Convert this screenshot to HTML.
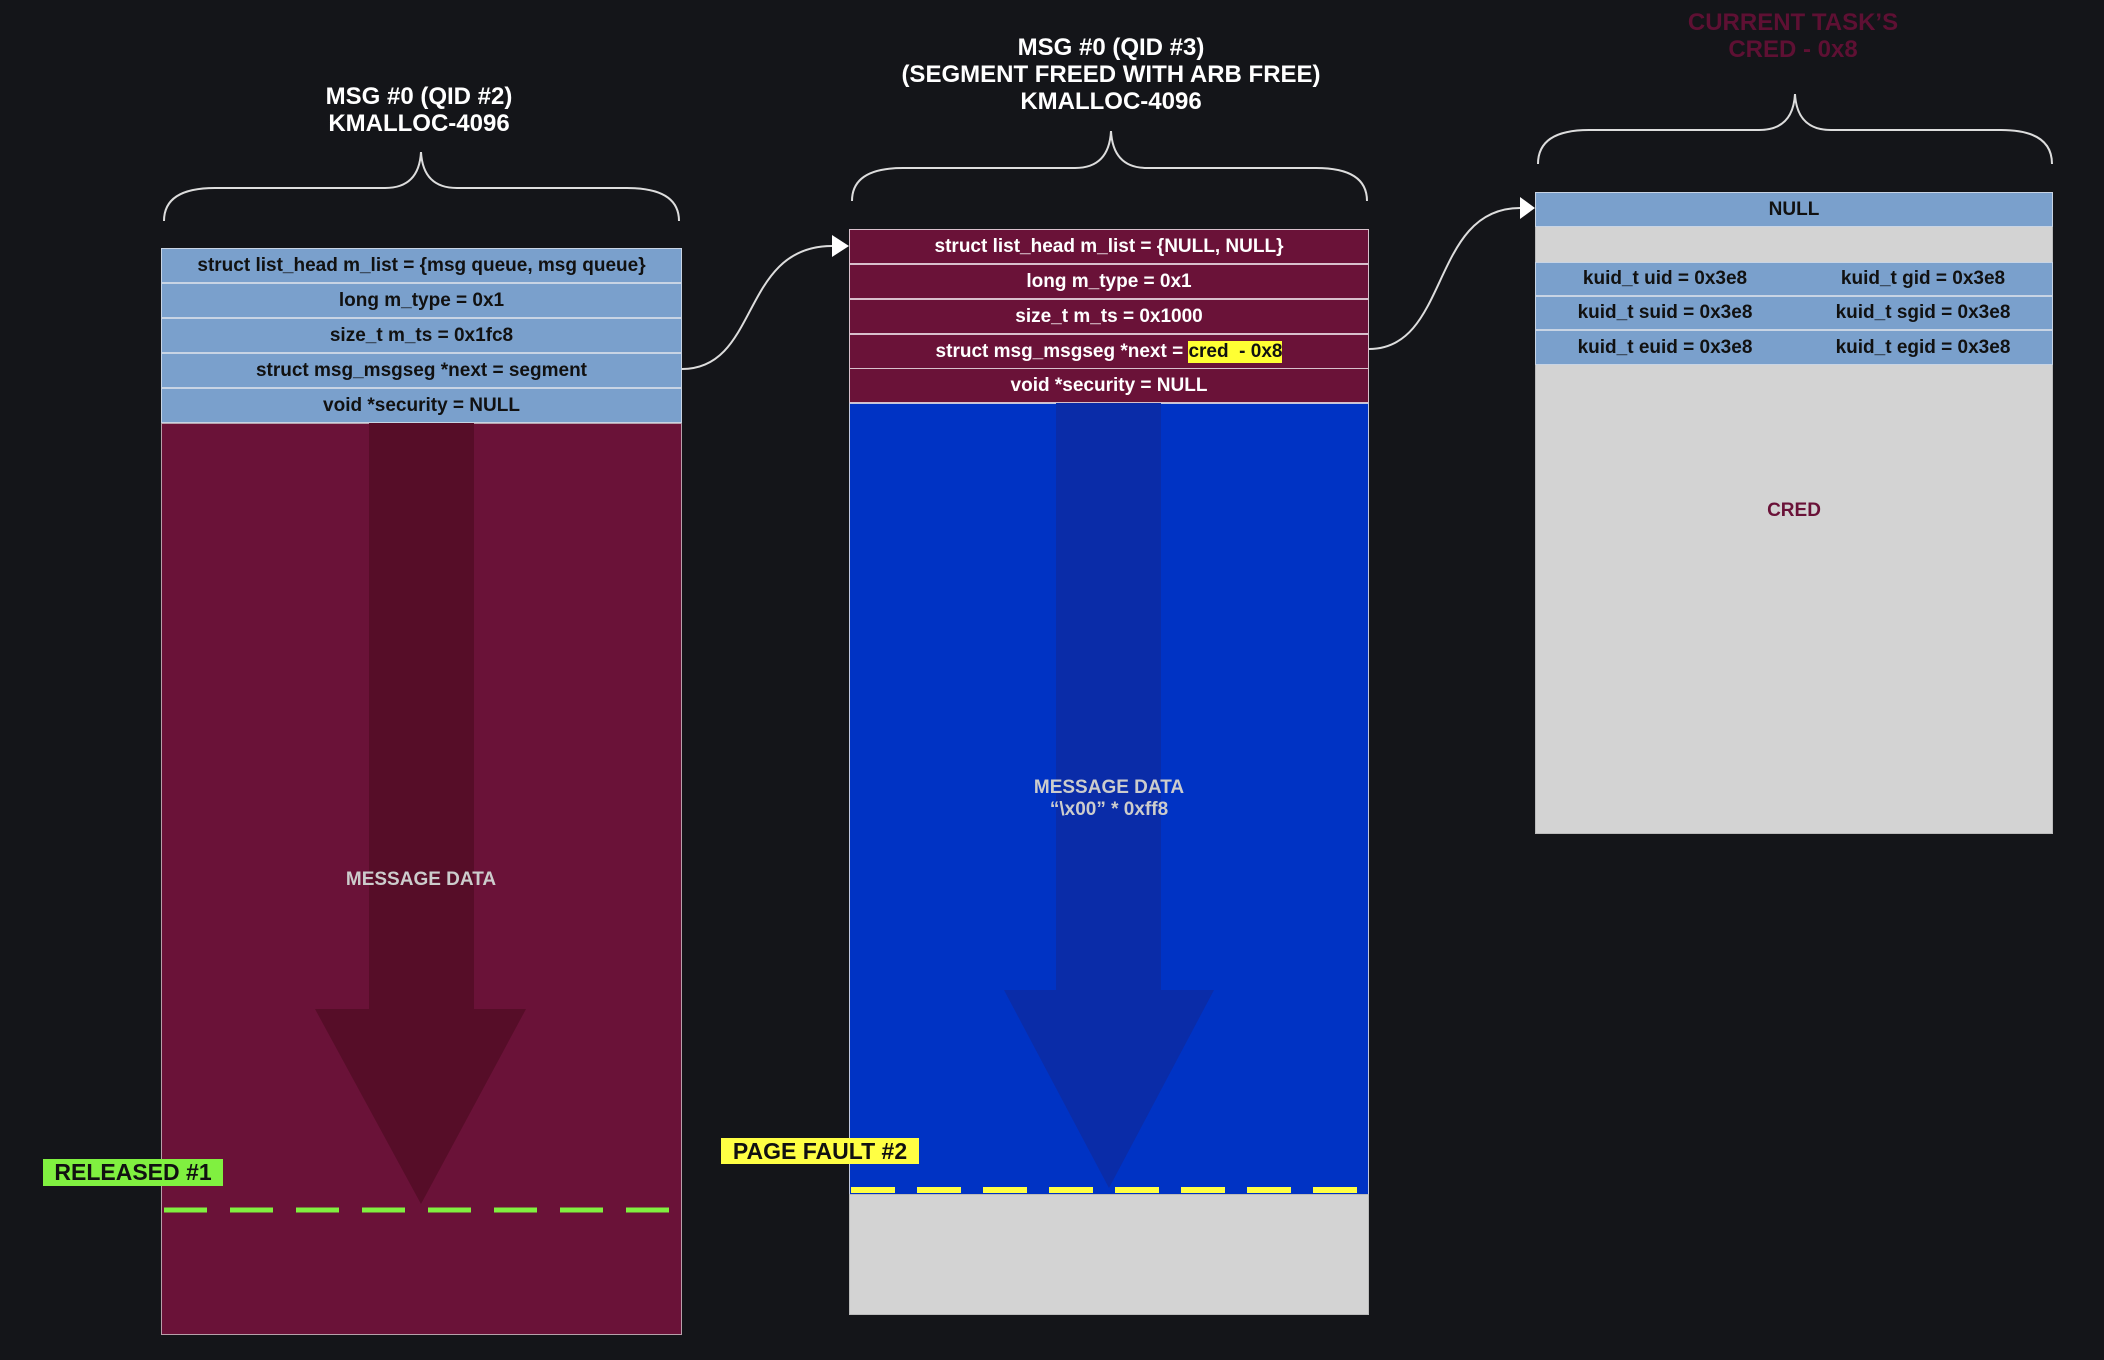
<!DOCTYPE html>
<html><head><meta charset="utf-8"><style>
*{margin:0;padding:0;box-sizing:border-box}
body{width:2104px;height:1360px;background:#141519;position:relative;overflow:hidden;font-family:"Liberation Sans",sans-serif;font-weight:bold}
.a{position:absolute}
.row{position:absolute;display:flex;align-items:center;justify-content:center;font-size:19px;border:1.5px solid #c8d4e4}
.b{background:#7aa0cc;color:#111}
.m{background:#6a1238;color:#fff;border-color:#d8c0cc}
.t{position:absolute;text-align:center;color:#fff;font-size:24px;line-height:27px}
.half{position:absolute;width:50%;text-align:center}
</style></head><body>

<!-- titles -->
<div class="t" style="left:219px;top:83px;width:400px">MSG #0 (QID #2)<br>KMALLOC-4096</div>
<div class="t" style="left:811px;top:34px;width:600px">MSG #0 (QID #3)<br>(SEGMENT FREED WITH ARB FREE)<br>KMALLOC-4096</div>
<div class="t" style="left:1593px;top:9px;width:400px;color:#5e1033">CURRENT TASK’S<br>CRED - 0x8</div>

<!-- left box -->
<div class="a" style="left:161px;top:423px;width:521px;height:912px;background:#6a1238;border:1.5px solid #b8a0aa"></div>
<div class="row b" style="left:161px;top:248px;width:521px;height:35px">struct list_head m_list = {msg queue, msg queue}</div>
<div class="row b" style="left:161px;top:283px;width:521px;height:35px">long m_type = 0x1</div>
<div class="row b" style="left:161px;top:318px;width:521px;height:35px">size_t m_ts = 0x1fc8</div>
<div class="row b" style="left:161px;top:353px;width:521px;height:35px">struct msg_msgseg *next = segment</div>
<div class="row b" style="left:161px;top:388px;width:521px;height:35px">void *security = NULL</div>

<!-- middle box -->
<div class="a" style="left:849px;top:403px;width:520px;height:792px;background:#0033c4;border:1.5px solid #c0c8e0"></div>
<div class="a" style="left:849px;top:1194px;width:520px;height:121px;background:#d3d3d3;border:1.5px solid #bbb"></div>
<div class="row m" style="left:849px;top:229px;width:520px;height:35px">struct list_head m_list = {NULL, NULL}</div>
<div class="row m" style="left:849px;top:264px;width:520px;height:35px">long m_type = 0x1</div>
<div class="row m" style="left:849px;top:299px;width:520px;height:35px">size_t m_ts = 0x1000</div>
<div class="row m" style="left:849px;top:334px;width:520px;height:35px">struct msg_msgseg *next =&nbsp;<span style="background:#ffff33;color:#111">cred&nbsp; - 0x8</span></div>
<div class="row m" style="left:849px;top:368px;width:520px;height:35px">void *security = NULL</div>

<!-- right box -->
<div class="a" style="left:1535px;top:192px;width:518px;height:642px;background:#d3d3d3;border:1.5px solid #bbb"></div>
<div class="row b" style="left:1535px;top:192px;width:518px;height:35px">NULL</div>
<div class="row b" style="left:1535px;top:262px;width:518px;height:34px"><span class="half" style="left:0">kuid_t uid = 0x3e8</span><span class="half" style="left:50%">kuid_t gid = 0x3e8</span></div>
<div class="row b" style="left:1535px;top:296px;width:518px;height:34px"><span class="half" style="left:0">kuid_t suid = 0x3e8</span><span class="half" style="left:50%">kuid_t sgid = 0x3e8</span></div>
<div class="row b" style="left:1535px;top:330px;width:518px;height:35px"><span class="half" style="left:0">kuid_t euid = 0x3e8</span><span class="half" style="left:50%">kuid_t egid = 0x3e8</span></div>
<div class="a" style="left:1535px;top:500px;width:518px;text-align:center;font-size:19px;color:#6a1238">CRED</div>

<svg class="a" style="left:0;top:0" width="2104" height="1360">
<!-- big arrows -->
<polygon points="369,423 474,423 474,1009 526,1009 421,1204 315,1009 369,1009" fill="#560d28"/>
<polygon points="1056,403 1161,403 1161,990 1214,990 1109,1188 1004,990 1056,990" fill="#0a2ca8"/>
<!-- dashed lines -->
<line x1="164" y1="1210" x2="674" y2="1210" stroke="#80f040" stroke-width="5" stroke-dasharray="43,23"/>
<line x1="851" y1="1190" x2="1367" y2="1190" stroke="#ffff44" stroke-width="6" stroke-dasharray="44,22"/>
<!-- braces -->
<g fill="none" stroke="#ddd" stroke-width="2">
<path d="M164,221 Q164,188 215,188 L385,188 Q419,188 421,152 Q423,188 457,188 L627,188 Q679,188 679,221"/>
<path d="M852,201 Q852,168 903,168 L1075,168 Q1109,168 1111,131 Q1113,168 1147,168 L1316,168 Q1367,168 1367,201"/>
<path d="M1538,164 Q1538,130 1589,130 L1759,130 Q1793,130 1795,94 Q1797,130 1831,130 L2001,130 Q2052,130 2052,164"/>
<!-- connectors -->
<path d="M682,369 C760,369 740,246 832,246"/>
<path d="M1369,349 C1450,349 1430,208 1520,208"/>
</g>
<polygon points="832,235 849,246 832,257" fill="#fff"/>
<polygon points="1520,197 1535,208 1520,219" fill="#fff"/>
<!-- data labels -->
<text x="421" y="885" text-anchor="middle" font-size="19" font-weight="bold" fill="#ccc" font-family="Liberation Sans">MESSAGE DATA</text>
<text x="1109" y="793" text-anchor="middle" font-size="19" font-weight="bold" fill="#ccc" font-family="Liberation Sans">MESSAGE DATA</text>
<text x="1109" y="815" text-anchor="middle" font-size="19" font-weight="bold" fill="#ccc" font-family="Liberation Sans">“\x00” * 0xff8</text>
</svg>

<div class="a" style="left:43px;top:1159px;width:180px;height:27px;background:#80f040;color:#111;font-size:23px;line-height:27px;text-align:center">RELEASED #1</div>
<div class="a" style="left:721px;top:1138px;width:198px;height:26px;background:#ffff44;color:#111;font-size:23px;line-height:26px;text-align:center">PAGE FAULT #2</div>
</body></html>
